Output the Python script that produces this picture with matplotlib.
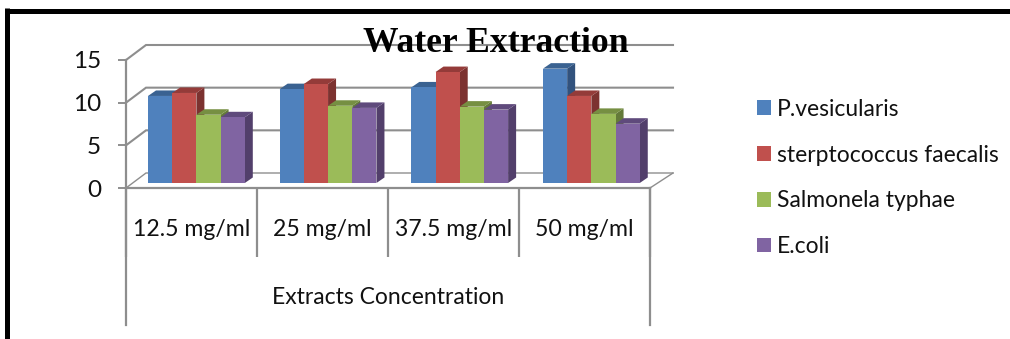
import matplotlib
matplotlib.use("Agg")
import matplotlib.pyplot as plt
from matplotlib.patches import Polygon, Patch
from matplotlib.lines import Line2D

plt.rcParams["font.family"] = "Lato"

categories = ["12.5 mg/ml", "25 mg/ml", "37.5 mg/ml", "50 mg/ml"]
series_names = ["P.vesicularis", "sterptococcus faecalis", "Salmonela typhae", "E.coli"]
p_vesicularis = [10.2, 11.0, 11.2, 13.4]
s_faecalis = [10.55, 11.6, 13.0, 10.2]
s_typhae = [8.0, 9.05, 8.95, 8.1]
e_coli = [7.7, 8.8, 8.6, 6.95]
series = [p_vesicularis, s_faecalis, s_typhae, e_coli]
y_ticks = [0, 5, 10, 15]

front = ["#4F81BD", "#C0504D", "#9BBB59", "#8064A2"]
top = ["#3A6291", "#943B39", "#768F42", "#5F4A7C"]
side = ["#32527D", "#7C3230", "#647A39", "#523F6B"]
GRID = "#8E8E8E"

W, H = 1010, 339
fig = plt.figure(figsize=(W / 100, H / 100), dpi=100, facecolor="white")
ax = fig.add_axes([126 / W, 1 - 188 / H, 524 / W, 128 / H])
ax.set_xlim(0, 4)
ax.set_ylim(0, 15)
ax.patch.set_visible(False)

PX_X = 4 / 524
PX_Y = 15 / 128
LW = 1.5


def px_x(v):
    return v * PX_X


def px_y(v):
    return v * PX_Y


# back wall and side wall
wall_left = px_x(20)
wall_right = 4 + px_x(23)
wall_rise = px_y(15)
for t in y_ticks:
    ax.plot([0, wall_left, wall_right], [t, t + wall_rise, t + wall_rise], color=GRID,
            lw=LW if t else 1.0, clip_on=False, zorder=1, solid_joinstyle="miter")
ax.plot([4, wall_right], [0, wall_rise], color=GRID, lw=1.0, clip_on=False, zorder=1)

# bars with 3-D faces
BAR_W = px_x(24.2)
BAR_STEP = 1.005
START = px_x(22)
BASE = px_y(5)
DX, DY = px_x(8), px_y(5.5)
z = 3
for i in range(len(categories)):
    for j, vals in enumerate(series):
        x0 = START + i * BAR_STEP + j * BAR_W
        x1 = x0 + BAR_W
        ytop = BASE + vals[i]
        ax.add_patch(Polygon([(x1, BASE), (x1 + DX, BASE + DY), (x1 + DX, ytop + DY), (x1, ytop)],
                             fc=side[j], ec="none", clip_on=False, zorder=z))
        ax.add_patch(Polygon([(x0, ytop), (x0 + DX, ytop + DY), (x1 + DX, ytop + DY), (x1, ytop)],
                             fc=top[j], ec="none", clip_on=False, zorder=z + 1))
        ax.bar(x0, vals[i], BAR_W, bottom=BASE, align="edge", color=front[j],
               clip_on=False, zorder=z + 2)
        z += 3

# axes
ax.spines["top"].set_visible(False)
for s in ("left", "right", "bottom"):
    ax.spines[s].set_color(GRID)
    ax.spines[s].set_linewidth(1.6)
ax.spines["left"].set_bounds(px_y(-137), 15)
ax.spines["right"].set_bounds(px_y(-137), 0)

ax.set_yticks(y_ticks)
ax.tick_params(axis="y", length=6, width=1.4, color=GRID, labelsize=17.5, pad=12,
               labelcolor="#111111")
ax.set_xticks(range(5))
ax.set_xticklabels([""] * 5)
ax.tick_params(axis="x", which="major", length=49.5, width=1.6, color=GRID)
ax.set_xticks([k + 0.5 for k in range(4)], minor=True)
ax.set_xticklabels(categories, minor=True)
ax.tick_params(axis="x", which="minor", length=0, labelsize=16.6, pad=22, labelcolor="#111111")
ax.set_xlabel("Extracts Concentration", fontsize=16.5, color="#111111")
ax.xaxis.label.set_verticalalignment("center")
ax.xaxis.set_label_coords(0.5, -109 / 128)

# title
fig.text(496 / W, 1 - 43 / H, "Water Extraction", family="Liberation Serif", weight="bold",
         fontsize=25.7, ha="center", va="center", color="black", zorder=50)

# legend
handles = [Patch(fc=c, ec="none") for c in front]
fig.legend(handles, series_names, loc="upper left", bbox_to_anchor=(750 / W, 1 - 92 / H),
           bbox_transform=fig.transFigure, frameon=False, fontsize=16.5,
           handlelength=0.61, handleheight=0.61, handletextpad=0.27, labelspacing=1.08,
           borderpad=0.3, borderaxespad=0, labelcolor="#111111")

# frame of the picture
fig.add_artist(Line2D([7 / W, 7 / W], [0, 1 - 8 / H], color="black", lw=3.6,
                      solid_capstyle="butt"))
fig.add_artist(Line2D([4.5 / W, 1], [1 - 10.5 / H, 1 - 10.5 / H], color="black", lw=3.6,
                      solid_capstyle="butt"))

fig.savefig("out.png", dpi=100)
